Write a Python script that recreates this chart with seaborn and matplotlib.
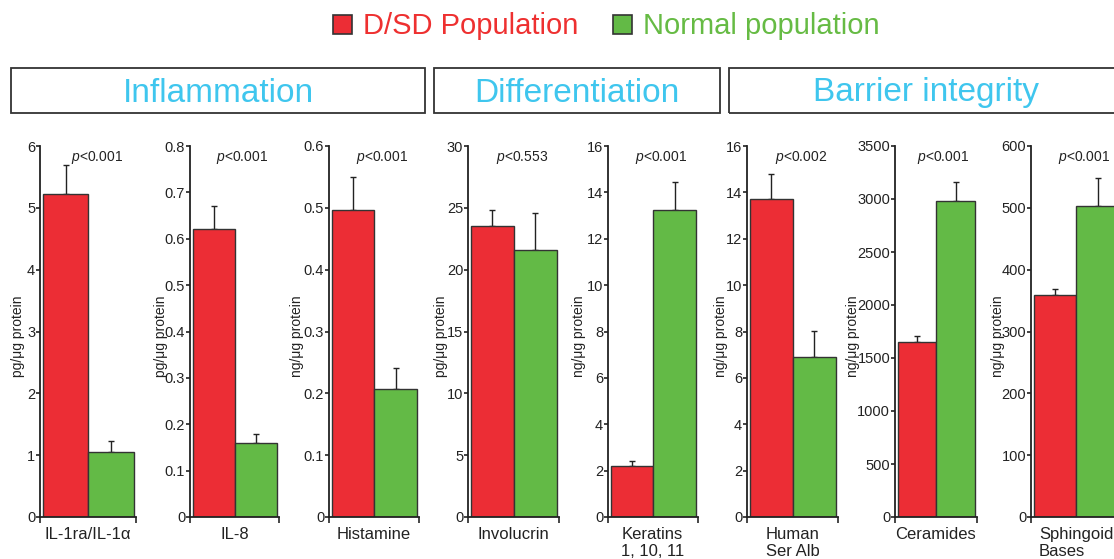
import matplotlib
matplotlib.use("Agg")
import matplotlib.pyplot as plt
from matplotlib.patches import Rectangle
from matplotlib.ticker import FuncFormatter, MultipleLocator
import seaborn as sns
import pandas as pd

# ---------------- data ----------------
categories = ["IL-1ra/IL-1α", "IL-8", "Histamine", "Involucrin",
              "Keratins\n1, 10, 11", "Human\nSer Alb", "Ceramides", "Sphingoid\nBases"]
dsd_mean = [5.22, 0.621, 0.497, 23.5, 2.22, 13.7, 1655, 359]
dsd_err = [0.47, 0.050, 0.053, 1.3, 0.21, 1.1, 54, 9]
normal_mean = [1.05, 0.159, 0.207, 21.6, 13.23, 6.92, 2980, 503]
normal_err = [0.18, 0.021, 0.034, 3.0, 1.22, 1.09, 182, 45]
y_max = [6, 0.8, 0.6, 30, 16, 16, 3500, 600]
y_step = [1, 0.1, 0.1, 5, 2, 2, 500, 100]
y_units = ["pg/μg protein", "pg/μg protein", "ng/μg protein", "pg/μg protein",
           "ng/μg protein", "ng/μg protein", "ng/μg protein", "ng/μg protein"]
p_values = ["<0.001", "<0.001", "<0.001", "<0.553", "<0.001", "<0.002", "<0.001", "<0.001"]
groups = ["D/SD Population", "Normal population"]
sections = ["Inflammation", "Differentiation", "Barrier integrity"]

RED = "#EC2D35"
GREEN = "#63BA46"
RED_TXT = "#EE3030"
GREEN_TXT = "#66BB44"
BLUE = "#3FC6EE"
EDGE = "#333333"

sns.set_style("ticks")
plt.rcParams["font.family"] = ["Liberation Sans", "DejaVu Sans"]
plt.rcParams["mathtext.fontset"] = "custom"
plt.rcParams["mathtext.it"] = "Liberation Sans:italic"
plt.rcParams["mathtext.rm"] = "Liberation Sans"

W, H = 1114, 559
fig = plt.figure(figsize=(W / 100, H / 100), dpi=100)

# panel pixel extents (left, right)
panel_px = [(40, 136), (190, 279), (329, 419), (468, 559),
            (608, 698), (747, 838), (895, 977), (1031, 1121)]
ylabel_x = [18, 161, 297, 441, 579, 721, 853, 998]
ax_top, ax_bot = 146, 517

for i in range(len(categories)):
    l, r = panel_px[i]
    ax = fig.add_axes([l / W, 1 - ax_bot / H, (r - l) / W, (ax_bot - ax_top) / H])
    df = pd.DataFrame({"group": groups, "value": [dsd_mean[i], normal_mean[i]]})
    sns.barplot(data=df, x="group", y="value", hue="group",
                palette=[RED, GREEN], saturation=1, width=1.0, edgecolor=EDGE,
                linewidth=1.0, errorbar=None, legend=False, ax=ax, zorder=2)
    ax.errorbar([0, 1], [dsd_mean[i], normal_mean[i]],
                yerr=[[0, 0], [dsd_err[i], normal_err[i]]],
                fmt="none", ecolor="#222222", elinewidth=1.0, capsize=2.4,
                capthick=1.0, zorder=1)
    ax.set_xlim(-0.57, 1.55)
    ax.set_ylim(0, y_max[i])
    ax.yaxis.set_major_locator(MultipleLocator(y_step[i]))
    ax.yaxis.set_major_formatter(FuncFormatter(lambda v, p: f"{v:g}"))
    ax.set_xticks([-0.57, 1.55])
    ax.set_xticklabels(["", ""])
    ax.set_xlabel("")
    ax.set_ylabel("")
    for s in ["top", "right"]:
        ax.spines[s].set_visible(False)
    for s in ["left", "bottom"]:
        ax.spines[s].set_linewidth(1.3)
        ax.spines[s].set_color("#222222")
    ax.tick_params(axis="y", direction="out", length=3, width=1.2, pad=0.5,
                   labelsize=10.5, colors="#222222")
    ax.tick_params(axis="x", direction="out", length=4, width=1.2)
    ax.text(0.5, -0.026, categories[i], transform=ax.transAxes, ha="center",
            va="top", fontsize=12, linespacing=1.22, multialignment="left",
            color="#222222")
    ax.text(0.59, 0.968, r"$p$" + p_values[i], transform=ax.transAxes,
            ha="center", va="center", fontsize=10, color="#222222")
    fig.text(ylabel_x[i] / W, 1 - 336 / H, y_units[i], rotation=90,
             ha="center", va="center", fontsize=10, color="#222222")

# section header boxes
boxes = [(11, 425), (434, 720), (729, 1123)]
for (bl, br), name in zip(boxes, sections):
    fig.add_artist(Rectangle((bl / W, 1 - 113 / H), (br - bl) / W, 45 / H,
                             transform=fig.transFigure, fill=False,
                             edgecolor="#333333", linewidth=1.3))
    fig.text((bl + br) / 2 / W, 1 - 93 / H, name, ha="center", va="center",
             fontsize=24, color=BLUE)

# legend
leg_items = [(333, RED, RED_TXT, groups[0]), (613, GREEN, GREEN_TXT, groups[1])]
for x0, fc, tc, lab in leg_items:
    fig.add_artist(Rectangle((x0 / W, 1 - 34 / H), 19 / W, 19 / H,
                             transform=fig.transFigure, facecolor=fc,
                             edgecolor="#333333", linewidth=1.2))
    fig.text((x0 + 30) / W, 1 - 26 / H, lab, ha="left", va="center",
             fontsize=21, color=tc)

fig.savefig("out.png", dpi=100)
